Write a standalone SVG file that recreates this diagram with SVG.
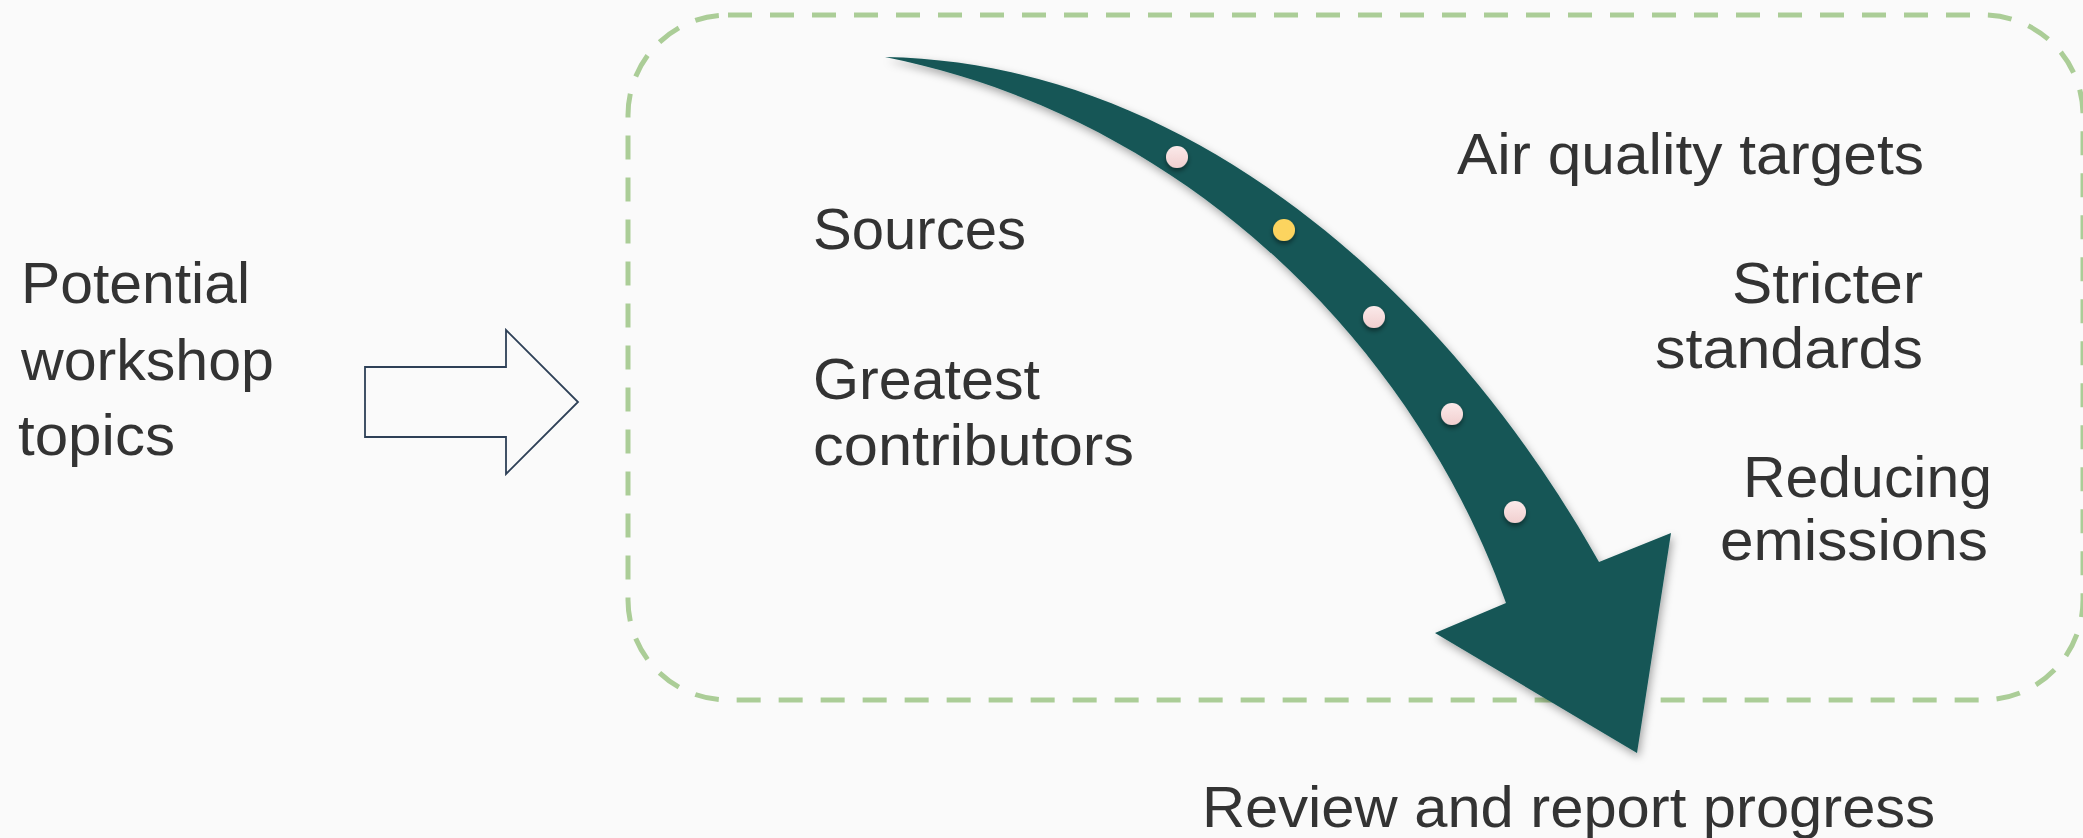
<svg xmlns="http://www.w3.org/2000/svg" width="2083" height="838" viewBox="0 0 2083 838">
  <style>
    .t { font-family: "Liberation Sans", Arial, sans-serif; font-size: 58px; fill: #333333; }
    .frame { fill: none; stroke: #abcd97; stroke-width: 5; stroke-dasharray: 24 18; }
    .block { fill: #fafafa; stroke: #2e4057; stroke-width: 1.8; stroke-linejoin: miter; }
    .big { fill: #145757; filter: url(#shadow); }
    .dot { fill: url(#pink); filter: url(#dotShadow); }
    .dotY { fill: #fcd45e; filter: url(#dotShadow); }
  </style>
  <defs>
    <filter id="shadow" x="-10%" y="-10%" width="120%" height="120%">
      <feDropShadow dx="2" dy="4" stdDeviation="4" flood-color="#000" flood-opacity="0.35"/>
    </filter>
    <filter id="dotShadow" x="-50%" y="-50%" width="200%" height="200%">
      <feDropShadow dx="0" dy="3" stdDeviation="2.5" flood-color="#000" flood-opacity="0.45"/>
    </filter>
    <linearGradient id="pink" x1="0" y1="0" x2="0" y2="1">
      <stop offset="0" stop-color="#fbeaea"/>
      <stop offset="1" stop-color="#f1cfcf"/>
    </linearGradient>
  </defs>
  <rect width="2083" height="838" fill="#fafafa"/>

  <g id="container">
    <rect class="frame" x="628" y="15" width="1455" height="685" rx="100" ry="100"/>
  </g>

  <g id="node-potential">
    <text class="t" x="21" y="303" textLength="229" lengthAdjust="spacingAndGlyphs">Potential</text>
    <text class="t" x="21" y="380" textLength="253" lengthAdjust="spacingAndGlyphs">workshop</text>
    <text class="t" x="18" y="455" textLength="157" lengthAdjust="spacingAndGlyphs">topics</text>
  </g>

  <g id="connectors">
    <polygon class="block" points="365,367 506,367 506,330 578,402 506,474 506,437 365,437"/>
  </g>

  <g id="node-sources">
    <text class="t" x="813" y="249" textLength="213" lengthAdjust="spacingAndGlyphs">Sources</text>
  </g>
  <g id="node-greatest">
    <text class="t" x="813" y="399" textLength="227" lengthAdjust="spacingAndGlyphs">Greatest</text>
    <text class="t" x="813" y="465" textLength="321" lengthAdjust="spacingAndGlyphs">contributors</text>
  </g>

  <g id="node-process-arrow">
    <path class="big" d="M885,57 C1180,62 1440,280 1599,562 L1671,533 L1637,753 L1435,633 L1506,603 C1420,360 1200,120 885,57 Z"/>
    <circle class="dot" cx="1177" cy="157" r="11"/>
    <circle class="dotY" cx="1284" cy="230" r="11"/>
    <circle class="dot" cx="1374" cy="317" r="11"/>
    <circle class="dot" cx="1452" cy="414" r="11"/>
    <circle class="dot" cx="1515" cy="512" r="11"/>
  </g>

  <g id="node-air">
    <text class="t" x="1457" y="174" textLength="467" lengthAdjust="spacingAndGlyphs">Air quality targets</text>
  </g>
  <g id="node-stricter">
    <text class="t" x="1732" y="303" textLength="191" lengthAdjust="spacingAndGlyphs">Stricter</text>
    <text class="t" x="1655" y="368" textLength="268" lengthAdjust="spacingAndGlyphs">standards</text>
  </g>
  <g id="node-reducing">
    <text class="t" x="1743" y="497" textLength="249" lengthAdjust="spacingAndGlyphs">Reducing</text>
    <text class="t" x="1720" y="560" textLength="268" lengthAdjust="spacingAndGlyphs">emissions</text>
  </g>
  <g id="node-review">
    <text class="t" x="1202" y="827" textLength="733" lengthAdjust="spacingAndGlyphs">Review and report progress</text>
  </g>
</svg>
